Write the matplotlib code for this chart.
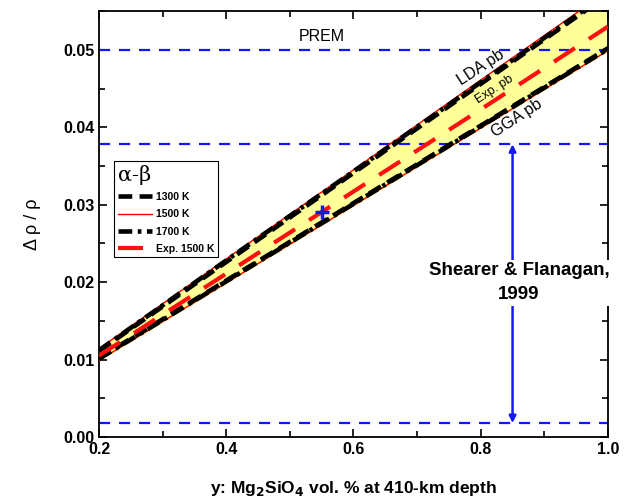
import numpy as np
import matplotlib.pyplot as plt
from matplotlib.ticker import MultipleLocator, FormatStrFormatter
from matplotlib.lines import Line2D

plt.rcParams['font.family'] = ['Liberation Sans', 'DejaVu Sans']

# composition (Mg2SiO4 vol. fraction)
y_frac = [0.2, 0.4, 0.6, 0.8, 1.0]

# density jump, LDA pseudo-potential at three temperatures
lda_1300 = [0.0111, 0.0226, 0.0341, 0.0456, 0.0571]
lda_1500 = [0.0114, 0.0230, 0.0345, 0.0461, 0.0576]
lda_1700 = [0.0112, 0.0228, 0.0343, 0.0458, 0.0573]

# density jump, GGA pseudo-potential at three temperatures
gga_1300 = [0.0102, 0.0202, 0.0302, 0.0402, 0.0502]
gga_1500 = [0.0099, 0.0199, 0.0299, 0.0399, 0.0499]
gga_1700 = [0.0101, 0.0201, 0.0301, 0.0401, 0.0501]

# experimental, 1500 K
exp_1500 = [0.0105, 0.0211, 0.0317, 0.0423, 0.0530]

# seismic references
prem = 0.050
sf_high = 0.0378
sf_low = 0.0018
sf_x = 0.85
point = (0.55, 0.029)

fig = plt.figure(figsize=(6.33, 5.03), dpi=100)
ax = fig.add_axes([0.1564, 0.1312, 0.8041, 0.8468])

ax.fill_between(y_frac, gga_1500, lda_1500, color='#ffff99', zorder=1)

for lo in (prem, sf_high, sf_low):
    ax.axhline(lo, color='#1414ff', lw=1.6, ls=(0, (5, 4)), zorder=2)

dash = (0, (3, 1.6))
dashdot = (0, (3, 1.2, 0.8, 1.2))
ax.plot(y_frac, lda_1500, color='red', lw=1.0, zorder=3)
ax.plot(y_frac, gga_1500, color='red', lw=1.0, zorder=3)
ax.plot(y_frac, lda_1300, color='black', lw=3.3, ls=dash, zorder=4)
ax.plot(y_frac, gga_1300, color='black', lw=3.3, ls=dash, zorder=4)
ax.plot(y_frac, lda_1700, color='black', lw=3.3, ls=dashdot, zorder=4)
ax.plot(y_frac, gga_1700, color='black', lw=3.3, ls=dashdot, zorder=4)
ax.plot(y_frac, exp_1500, color='#ff1010', lw=3.0, ls=(0, (6, 4)), zorder=5)

ax.plot(*point, marker='+', ms=10, mew=2.5, color='#1414ff', zorder=6)

ax.annotate('', xy=(sf_x, sf_low), xytext=(sf_x, sf_high),
            arrowprops=dict(arrowstyle='<|-|>', color='#1414ff', lw=1.8,
                            mutation_scale=10, shrinkA=0, shrinkB=0), zorder=2)
ax.text(0.86, 0.0199, 'Shearer & Flanagan,\n1999', ha='center', va='center',
        fontsize=13.5, fontweight='bold', linespacing=1.55,
        bbox=dict(facecolor='white', edgecolor='none', pad=2), zorder=3)

ax.text(0.55, 0.0517, 'PREM', ha='center', va='center', fontsize=11.5)
ax.text(0.80, 0.0477, 'LDA pb', ha='center', va='center', fontsize=11.5,
        rotation=33, rotation_mode='anchor', zorder=7)
ax.text(0.822, 0.0449, 'Exp. pb', ha='center', va='center', fontsize=9,
        rotation=33, rotation_mode='anchor', zorder=7)
ax.text(0.857, 0.0412, 'GGA pb', ha='center', va='center', fontsize=11.5,
        rotation=33, rotation_mode='anchor', zorder=7)

handles = [
    Line2D([], [], color='black', lw=3.3, ls=dash),
    Line2D([], [], color='red', lw=1.0),
    Line2D([], [], color='black', lw=3.3, ls=dashdot),
    Line2D([], [], color='#ff1010', lw=3.0, ls=(0, (6, 4))),
]
leg = ax.legend(handles, ['1300 K', '1500 K', '1700 K', 'Exp. 1500 K'],
                loc='upper left', bbox_to_anchor=(0.03, 0.648),
                title='\u03b1-\u03b2', alignment='left',
                prop=dict(size=7.5, weight='bold'), handlelength=3.3,
                fancybox=False, edgecolor='black', framealpha=1,
                borderpad=0.35, borderaxespad=0, labelspacing=0.7,
                handletextpad=0.4)
leg.get_title().set_fontfamily('DejaVu Serif')
leg.get_title().set_fontsize(15)
leg.get_frame().set_linewidth(0.8)

ax.set_xlim(0.2, 1.0)
ax.set_ylim(0.0, 0.055)
ax.xaxis.set_major_locator(MultipleLocator(0.2))
ax.xaxis.set_minor_locator(MultipleLocator(0.1))
ax.yaxis.set_major_locator(MultipleLocator(0.01))
ax.yaxis.set_minor_locator(MultipleLocator(0.005))
ax.xaxis.set_major_formatter(FormatStrFormatter('%.1f'))
ax.yaxis.set_major_formatter(FormatStrFormatter('%.2f'))
ax.tick_params(which='both', direction='in', top=True, right=True, width=1.2)
ax.tick_params(which='major', length=6, labelsize=11.5)
ax.tick_params(which='minor', length=4)
for lab in ax.get_xticklabels() + ax.get_yticklabels():
    lab.set_fontweight('bold')
for sp in ax.spines.values():
    sp.set_linewidth(1.3)

ax.set_xlabel('y: Mg$_\\mathbf{2}$SiO$_\\mathbf{4}$ vol. % at 410-km depth',
              fontsize=12.5, fontweight='bold', labelpad=16)
ax.set_ylabel('\u0394 \u03c1 / \u03c1', fontsize=13, labelpad=16)

fig.savefig('out.png', dpi=100)
